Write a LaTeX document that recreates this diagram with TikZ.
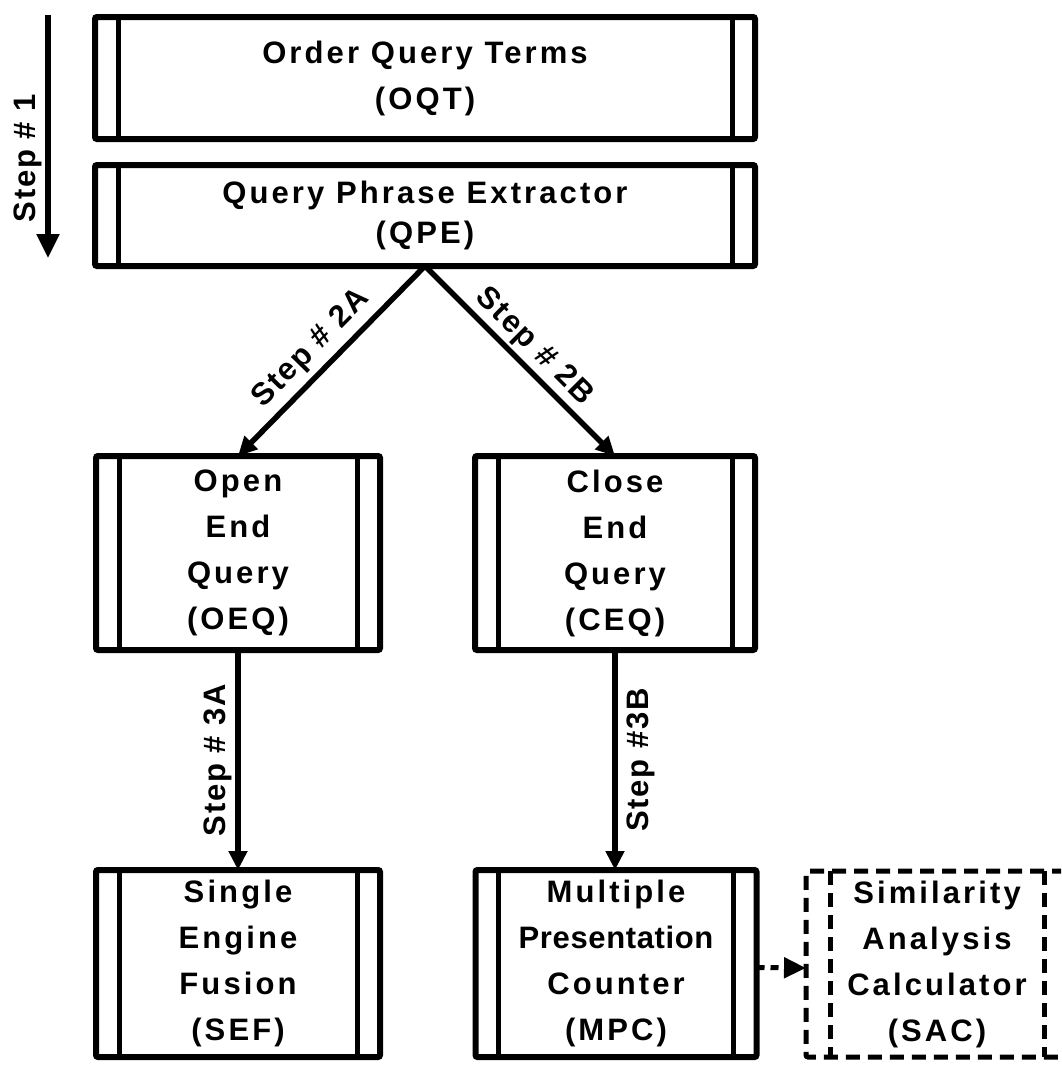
\documentclass[tikz,border=0pt]{standalone}
\usepackage{fontspec}
\setmainfont{Liberation Sans}
\newfontfamily\boxfont[LetterSpace=10]{Liberation Sans}
\newfontfamily\tightfont[LetterSpace=2]{Liberation Sans}
\newfontfamily\stepfont[LetterSpace=6]{Liberation Sans}
\usetikzlibrary{arrows.meta}

\begin{document}
\begin{tikzpicture}[x=1pt,y=-1pt,
  procbox/.style={draw, line width=6pt, rounded corners=2pt, outer sep=0pt,
    inner sep=0pt, align=center,
    font=\boxfont\bfseries\fontsize{31}{46}\selectfont},
  dashbox/.style={procbox, line width=5pt, dash pattern=on 14pt off 8pt},
  bar/.style={line width=5pt},
  dashbar/.style={line width=5pt, dash pattern=on 14pt off 8pt},
  flow/.style={line width=5.5pt, -{Triangle[length=19pt,width=18pt]}},
  steplbl/.style={font=\stepfont\bfseries\fontsize{31}{31}\selectfont, inner sep=3pt}
]
\useasboundingbox (0,0) rectangle (1061,1066);
\clip (0,0) rectangle (1061,1066);

% process boxes
\node[procbox, minimum width=660pt, minimum height=122pt] (oqt) at (425,78)
  {Order Query Terms\\(OQT)};
\node[procbox, minimum width=660pt, minimum height=101pt,
  font=\boxfont\bfseries\fontsize{31}{40}\selectfont] (qpe) at (425,215.5)
  {Query Phrase Extractor\\(QPE)};
\node[procbox, minimum width=284pt, minimum height=194pt] (oeq) at (238,553)
  {Open\\End\\Query\\(OEQ)};
\node[procbox, minimum width=280pt, minimum height=194pt] (ceq) at (615,553)
  {Close\\End\\Query\\(CEQ)};
\node[procbox, minimum width=284pt, minimum height=187pt] (sef) at (238,963.5)
  {Single\\Engine\\Fusion\\(SEF)};
\node[procbox, minimum width=281pt, minimum height=187pt] (mpc) at (616,963.5)
  {Multiple\\{\tightfont Presentation}\\Counter\\(MPC)};
\node[dashbox, minimum width=262pt, minimum height=186pt] (sac) at (937,964)
  {Similarity\\Analysis\\Calculator\\(SAC)};

% side bars of the process symbols
\foreach \n in {oqt,qpe,oeq,ceq,sef,mpc}{
  \draw[bar] ([xshift=23pt]\n.north west) -- ([xshift=23pt]\n.south west);
  \draw[bar] ([xshift=-23pt]\n.north east) -- ([xshift=-23pt]\n.south east);
}
\draw[dashbar] ([xshift=24pt]sac.north west) -- ([xshift=24pt]sac.south west);
\draw[dashbar] ([xshift=-24pt]sac.north east) -- ([xshift=-24pt]sac.south east);

% step 1
\coordinate (s1top) at (48,15);
\coordinate (s1tip) at (48,258);
\draw[flow, -{Triangle[length=24pt,width=22pt]}] (s1top) -- (s1tip)
  node[steplbl, pos=0.59, rotate=90, anchor=south] (s1) {Step \# 1};

% step 2
\draw[flow] (qpe.south) -- (oeq.north)
  node[steplbl, sloped, above, pos=0.52, inner sep=6pt] (s2a) {Step \# 2A};
\draw[flow] (qpe.south) -- (ceq.north)
  node[steplbl, sloped, above, pos=0.5] (s2b) {Step \# 2B};

% step 3
\draw[flow] (oeq.south) -- (sef.north)
  node[steplbl, midway, rotate=90, anchor=south] (s3a) {Step \# 3A};
\draw[flow] (ceq.south) -- (ceq.south |- mpc.north)
  node[steplbl, midway, rotate=90, anchor=north, inner ysep=9pt] (s3b) {Step \#3B};

% optional link
\draw[line width=5pt, dash pattern=on 8pt off 6pt, -{Triangle[length=22pt,width=20pt]}]
  ([yshift=-4pt]mpc.east) -- ([yshift=-4pt]sac.west);
\end{tikzpicture}
\end{document}
